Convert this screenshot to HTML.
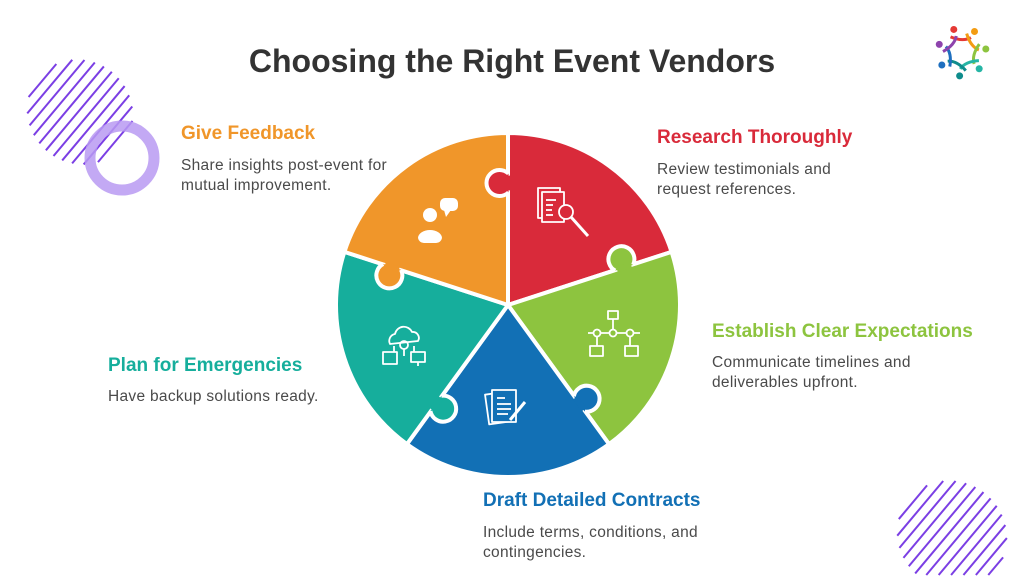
<!DOCTYPE html>
<html><head><meta charset="utf-8"><style>
html,body{margin:0;padding:0;background:#fff;overflow:hidden;width:1024px;height:576px;}
#w{position:relative;width:1024px;height:576px;overflow:hidden;font-family:"Liberation Sans",sans-serif;}
.t{position:absolute;font-weight:bold;font-size:19px;white-space:nowrap;}
.d{position:absolute;font-size:15.5px;color:#4a4a4a;line-height:20px;white-space:nowrap;letter-spacing:0.3px;}
h1{position:absolute;left:0;width:1024px;top:43px;margin:0;text-align:center;font-size:32px;color:#333;font-weight:bold;}
</style></head><body><div id="w">
<svg id="s" width="1024" height="576" style="position:absolute;left:0;top:0">
<g id="h1" stroke="#7B3FE4" stroke-width="2"></g>
<circle cx="122" cy="158" r="32" fill="none" stroke="#B89AF2" stroke-width="11" opacity="0.85"/>
<g id="h2" stroke="#7B3FE4" stroke-width="2"></g>
<g id="pz"></g>
<g id="logo"></g>
<g fill="none" stroke="#fff" stroke-width="1.8" stroke-linejoin="round">
 <rect x="538" y="188" width="22" height="30"/><rect x="542" y="192" width="22" height="30" fill="#D92A3A"/>
 <line x1="546" y1="200" x2="556" y2="200"/><line x1="546" y1="205" x2="553" y2="205"/><line x1="546" y1="210" x2="552" y2="210"/><line x1="546" y1="215" x2="553" y2="215"/>
 <circle cx="566" cy="212" r="7" fill="#D92A3A"/><line x1="571" y1="217" x2="588" y2="236" stroke-width="3"/>
 <rect x="608" y="311" width="10" height="8"/><line x1="613" y1="319" x2="613" y2="330"/>
 <line x1="588" y1="333" x2="640" y2="333"/><circle cx="597" cy="333" r="3.5" fill="#8DC43F"/><circle cx="613" cy="333" r="3.5" fill="#8DC43F"/><circle cx="630" cy="333" r="3.5" fill="#8DC43F"/>
 <line x1="597" y1="337" x2="597" y2="346"/><line x1="630" y1="337" x2="630" y2="346"/>
 <rect x="590" y="346" width="13" height="10"/><rect x="625" y="346" width="13" height="10"/>
 <rect x="487" y="393" width="22" height="30" transform="rotate(-8 498 408)"/>
 <rect x="492" y="390" width="24" height="32" fill="#1270B5"/>
 <line x1="497" y1="398" x2="505" y2="398"/><line x1="497" y1="404" x2="511" y2="404"/><line x1="497" y1="409" x2="511" y2="409"/><line x1="497" y1="414" x2="508" y2="414"/>
 <line x1="510" y1="420" x2="525" y2="402" stroke-width="3"/>
 <path d="M390 344 a7 7 0 0 1 5-10 a9 9 0 0 1 17-2 a6 6 0 0 1 6 9 z"/>
 <circle cx="404" cy="345" r="4"/><line x1="404" y1="349" x2="404" y2="356"/>
 <line x1="394" y1="346" x2="394" y2="352"/><line x1="414" y1="346" x2="414" y2="352"/>
 <rect x="383" y="352" width="14" height="12"/><rect x="411" y="352" width="14" height="10"/><line x1="418" y1="362" x2="418" y2="366"/>
</g>
<g fill="#fff">
 <circle cx="430" cy="215" r="7"/><path d="M418 238 a12 8 0 0 1 24 0 a6 6 0 0 1 -6 5 h-12 a6 6 0 0 1 -6 -5z"/>
 <rect x="440" y="198" width="18" height="13" rx="5"/><path d="M444 210 l2 7 l5 -7z"/>
</g>
</svg>
<h1>Choosing the Right Event Vendors</h1>
<div class="t" style="left:181px;top:123px;color:#F0962A">Give Feedback</div>
<div class="d" style="left:181px;top:156px">Share insights post-event for<br>mutual improvement.</div>
<div class="t" style="left:657px;top:127px;color:#D92A3A">Research Thoroughly</div>
<div class="d" style="left:657px;top:160px">Review testimonials and<br>request references.</div>
<div class="t" style="left:712px;top:321px;color:#8DC43F">Establish Clear Expectations</div>
<div class="d" style="left:712px;top:353px">Communicate timelines and<br>deliverables upfront.</div>
<div class="t" style="left:108px;top:355px;color:#16AE9C">Plan for Emergencies</div>
<div class="d" style="left:108px;top:387px">Have backup solutions ready.</div>
<div class="t" style="left:483px;top:490px;color:#1270B5">Draft Detailed Contracts</div>
<div class="d" style="left:483px;top:523px">Include terms, conditions, and<br>contingencies.</div>
</div>
<script>
var NS="http://www.w3.org/2000/svg";
function el(p,t,a){var e=document.createElementNS(NS,t);for(var k in a)e.setAttribute(k,a[k]);p.appendChild(e);return e;}
function hatch(g,cx,cy,r,ymax){var ang=50*Math.PI/180;var dx=Math.cos(ang),dy=-Math.sin(ang);var nx=-dy,ny=dx;
 for(var s=-r+5;s<r;s+=9.5){var L=Math.sqrt(r*r-s*s)*0.95;var px=cx+nx*s,py=cy+ny*s;
  var x1=px-dx*L,y1=py-dy*L,x2=px+dx*L,y2=py+dy*L;
  if(y1>ymax){var t=(y1-ymax)/(y1-y2);x1=x1+(x2-x1)*t;y1=ymax;}
  if(y2>=ymax)continue;
  el(g,'line',{x1:x1,y1:y1,x2:x2,y2:y2});}}
hatch(document.getElementById('h1'),80,112,54,576);hatch(document.getElementById('h2'),952,535,56,575);
var cx=508,cy=305,R=172;
var cols=['#D92A3A','#8DC43F','#1270B5','#16AE9C','#F0962A'];
function P(th,r){var a=th*Math.PI/180;return [cx+r*Math.sin(a),cy-r*Math.cos(a)];}
var pz=document.getElementById('pz');
for(var i=0;i<5;i++){var a0=i*72,a1=a0+72;var p0=P(a0,R),p1=P(a1,R);
 el(pz,'path',{d:'M'+cx+' '+cy+' L'+p0+' A'+R+' '+R+' 0 0 1 '+p1+' Z',fill:cols[i],stroke:'#fff','stroke-width':4,'stroke-linejoin':'round'});}
for(var i=0;i<5;i++){var th=i*72,a=th*Math.PI/180;var u=[Math.sin(a),-Math.cos(a)],v=[-Math.cos(a),-Math.sin(a)];
 var d=122,off=9,rr=13,h=Math.sqrt(rr*rr-off*off);var bx=cx+u[0]*d,by=cy+u[1]*d;
 var A=[bx-u[0]*h-v[0]*0.5,by-u[1]*h-v[1]*0.5],B=[bx+u[0]*h-v[0]*0.5,by+u[1]*h-v[1]*0.5];
 el(pz,'path',{d:'M'+A+' A'+rr+' '+rr+' 0 1 1 '+B,fill:cols[i],stroke:'#fff','stroke-width':4});
 el(pz,'line',{x1:bx-u[0]*(h-2),y1:by-u[1]*(h-2),x2:bx+u[0]*(h-2),y2:by+u[1]*(h-2),stroke:cols[i],'stroke-width':6});}
var lg=document.getElementById('logo');var lc=['#E53935','#F39C12','#8DC43F','#26B5A5','#0F8C8C','#1E6FBF','#8E44AD'];
for(var i=0;i<7;i++){var a=(i*360/7-20)*Math.PI/180;var x=962+24*Math.sin(a),y=52-24*Math.cos(a);
 el(lg,'circle',{cx:x,cy:y,r:3.5,fill:lc[i]});
 var a2=a+0.45;el(lg,'path',{d:'M'+(962+19*Math.sin(a-0.3))+' '+(52-19*Math.cos(a-0.3))+' Q'+(962+10*Math.sin(a2))+' '+(52-10*Math.cos(a2))+' '+(962+17*Math.sin(a+0.9))+' '+(52-17*Math.cos(a+0.9)),fill:'none',stroke:lc[i],'stroke-width':3});}
</script>
</body></html>
